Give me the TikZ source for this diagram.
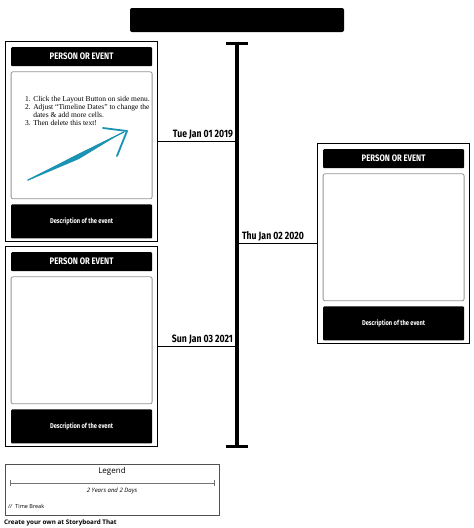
\documentclass[tikz,border=0pt]{standalone}
\usepackage{fontspec}
\setmainfont{Liberation Serif}
\newfontfamily\condfont{Fira Sans}[FakeStretch=0.82]
\newfontfamily\legfont{Open Sans}
\usetikzlibrary{positioning,calc}
\definecolor{inkteal}{HTML}{1B93B5}
\definecolor{frameg}{RGB}{150,150,150}
\definecolor{legendg}{RGB}{80,80,80}
\tikzset{
  cardbox/.style={rectangle, draw=black, line width=1.2pt, fill=white,
                  minimum width=152pt, minimum height=200pt, anchor=north west},
  headbar/.style={rectangle, rounded corners=1pt, fill=black, text=white, inner sep=0pt,
                  minimum width=141pt, minimum height=19pt, font=\condfont\bfseries\fontsize{9.4}{10}\selectfont},
  picframe/.style={rectangle, rounded corners=2pt, draw=frameg, line width=0.8pt, inner sep=0pt,
                   minimum width=141pt, minimum height=127pt},
  descbar/.style={rectangle, rounded corners=1pt, fill=black, text=white, inner sep=0pt,
                  minimum width=141pt, minimum height=34pt, font=\condfont\bfseries\fontsize{7}{8}\selectfont},
  datelab/.style={font=\condfont\bfseries\fontsize{10.6}{11}\selectfont, inner sep=1.5pt},
  tie/.style={line width=1pt, draw=black},
}

\begin{document}
\begin{tikzpicture}[x=1pt, y=-1pt, node distance=5pt]
    \useasboundingbox (0,0) rectangle (474,528);
    % title bar
    \node[rectangle, rounded corners=2pt, fill=black, minimum width=214pt, minimum height=24pt] (title) at (237,20) {};
    % timeline
    \coordinate (tl) at (237,43);
    \coordinate (bl) at (237,446);
    \draw[line width=4pt] (tl) -- (bl);
    \draw[line width=3pt] ([xshift=-11pt]tl) -- ([xshift=11pt]tl);
    \draw[line width=3pt] ([xshift=-11pt]bl) -- ([xshift=11pt]bl);
    % cards
    \node[cardbox] (c1) at (5,41) {};
    \node[headbar, below=6pt of c1.north] (h1) {PERSON OR EVENT};
    \node[picframe, below=of h1] (p1) {};
    \node[descbar, below=of p1] (d1) {Description of the event};
    \node[cardbox] (c2) at (5,246) {};
    \node[headbar, below=6pt of c2.north] (h2) {PERSON OR EVENT};
    \node[picframe, below=of h2] (p2) {};
    \node[descbar, below=of p2] (d2) {Description of the event};
    \node[cardbox] (c3) at (317,143) {};
    \node[headbar, below=6pt of c3.north] (h3) {PERSON OR EVENT};
    \node[picframe, below=of h3] (p3) {};
    \node[descbar, below=of p3] (d3) {Description of the event};
    % hint text and sketch arrow
    \node[anchor=north west, inner sep=0pt, align=left, font=\fontsize{7.5}{7.8}\selectfont] (hint) at (25,96)
      {\begin{tabular}{@{}r@{ }l@{}}
       1.&Click the Layout Button on side menu.\\
       2.&Adjust ``Timeline Dates'' to change the\\
         &dates \& add more cells.\\
       3.&Then delete this text!
       \end{tabular}};
    \coordinate (tip) at (127,131);
    \fill[inkteal] (27,181) -- (74,156) -- (125,131) -- (79,159) -- cycle;
    \draw[inkteal, line width=1.2pt, line cap=round] (28,180) -- (124,132);
    \draw[inkteal, line width=1.8pt, line cap=round, line join=round] (103,128) -- (tip) -- (117,156);
    % dates
    \draw[tie] (c1.east) -- (c1.east -| tl) node[datelab, above left, xshift=-2pt] {Tue Jan 01 2019};
    \draw[tie] (c3.west -| tl) node[datelab, above right, xshift=3pt] {Thu Jan 02 2020} -- (c3.west);
    \draw[tie] (c2.east) -- (c2.east -| tl) node[datelab, above left, xshift=-2pt] {Sun Jan 03 2021};
    % legend
    \node[rectangle, draw=legendg, line width=0.8pt, minimum width=214pt, minimum height=51pt, anchor=north west] (legend) at (5,464) {};
    \node[font=\legfont\fontsize{8}{9}\selectfont, inner sep=0pt] (legtitle) at (112,471) {Legend};
    \draw[legendg!80, line width=0.5pt, |-|] (10,483) -- (214,483);
    \node[font=\legfont\itshape\fontsize{6}{7}\selectfont, inner sep=0pt] (span) at (112,491) {2 Years and 2 Days};
    \node[font=\legfont\fontsize{5.5}{6}\selectfont, anchor=west, inner sep=0pt] (brk) at (8,506) {\textit{//}\ \ Time Break};
    \node[font=\legfont\bfseries\fontsize{6.3}{7}\selectfont, anchor=west, inner sep=0pt] (credit) at (4,523) {Create your own at Storyboard That};
\end{tikzpicture}
\end{document}
